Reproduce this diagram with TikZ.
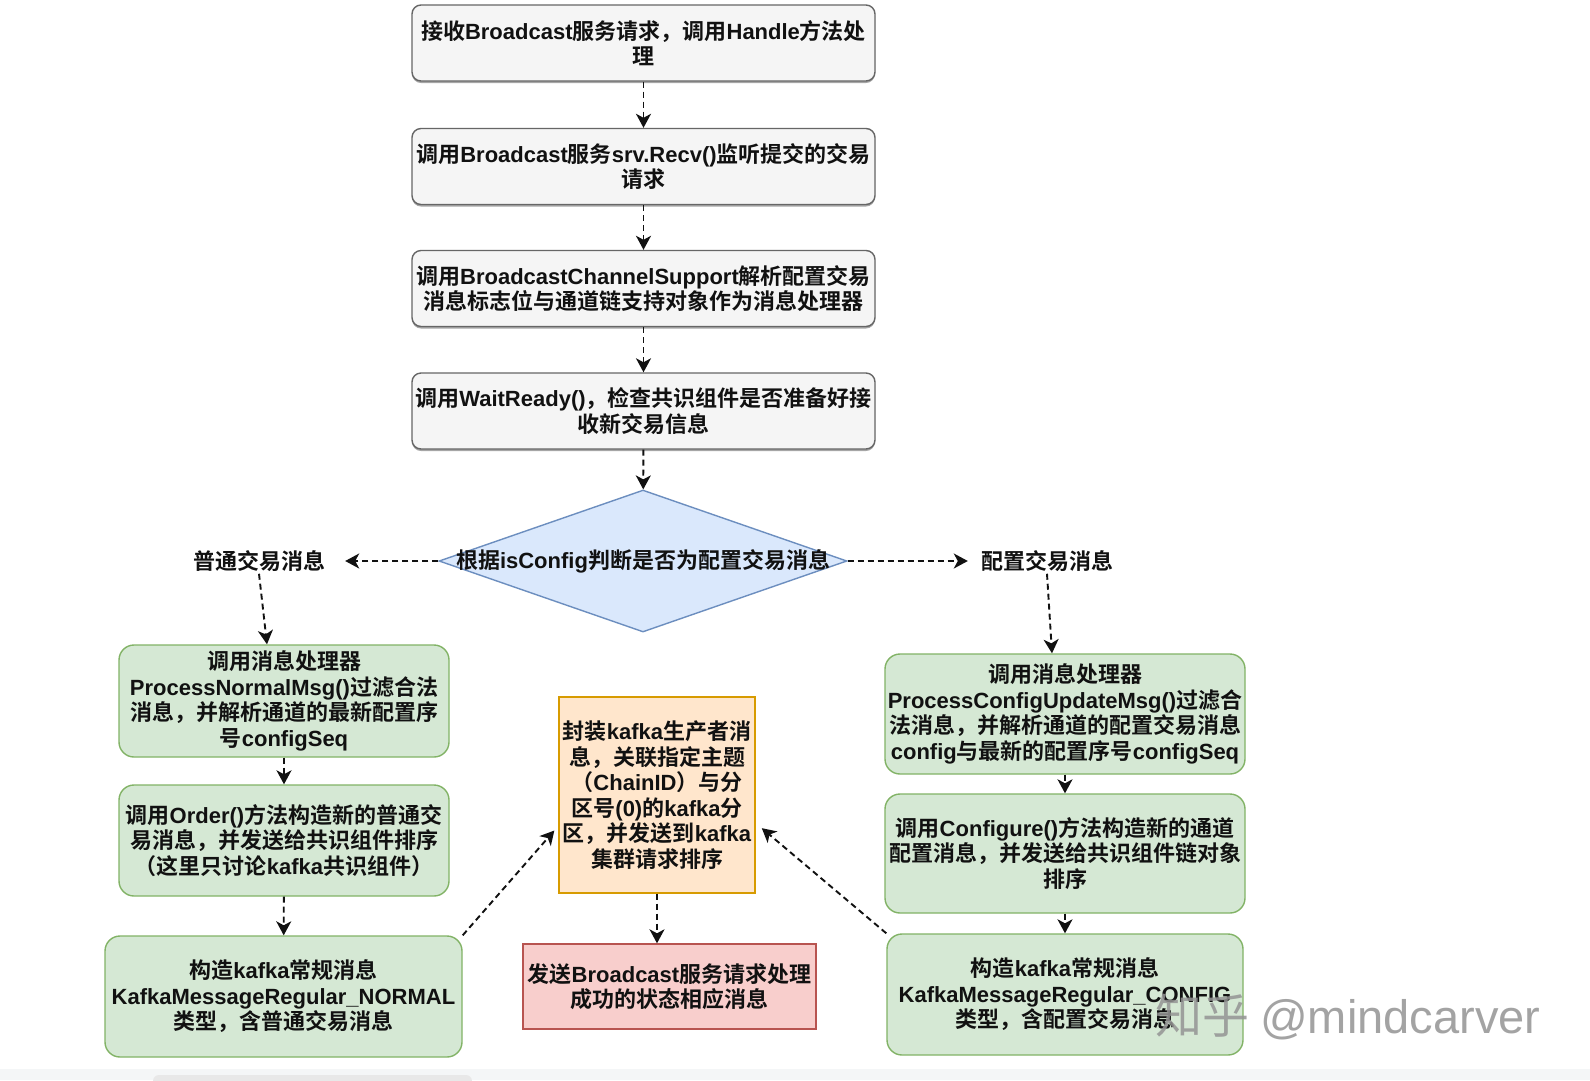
\documentclass[tikz,border=0pt]{standalone}
\usepackage{fontspec}
\setmainfont{Noto Sans CJK SC}[BoldFont={* Bold}]
\newfontfamily\ltnfont{Liberation Sans}
\newcommand\ltn[1]{{\ltnfont #1}}
\usetikzlibrary{positioning, arrows.meta, shapes.geometric, shadows}
\definecolor{ink}{HTML}{111111}
\definecolor{grayfill}{HTML}{F5F5F5}
\definecolor{grayline}{HTML}{666666}
\definecolor{grnfill}{HTML}{D5E8D4}
\definecolor{grnline}{HTML}{82B366}
\definecolor{orgfill}{HTML}{FFE6CC}
\definecolor{orgline}{HTML}{D79B00}
\definecolor{redfill}{HTML}{F8CECC}
\definecolor{redline}{HTML}{B85450}
\definecolor{decfill}{HTML}{DAE8FC}
\definecolor{decline}{HTML}{6C8EBF}
\definecolor{strip}{HTML}{F4F6F7}
\tikzset{
  every node/.style = {font=\bfseries\fontsize{22}{25.5}\selectfont, text=ink},
  fcbase/.style  = {draw, line width=1.4pt, align=center, inner sep=2pt},
  fcgray/.style  = {fcbase, draw=grayline, fill=grayfill, rounded corners=9pt,
                    minimum width=463pt, minimum height=76pt,
                    drop shadow={shadow xshift=0pt, shadow yshift=-2pt, opacity=0.35, fill=black}},
  fcgrn/.style   = {fcbase, draw=grnline, fill=grnfill, rounded corners=15pt},
  fcorg/.style   = {fcbase, draw=orgline, fill=orgfill, minimum width=196pt, minimum height=196pt},
  fcred/.style   = {fcbase, draw=redline, fill=redfill, minimum width=293pt, minimum height=85pt},
  fcdec/.style   = {diamond, draw=decline, fill=decfill, line width=1.4pt, inner sep=0pt,
                    minimum width=408pt, minimum height=142pt},
  fclab/.style   = {inner sep=2pt},
  fcgo/.style    = {-{Stealth[length=14pt,width=15pt,inset=4pt]}, draw=ink, line width=1.9pt,
                    dash pattern=on 6pt off 4pt},
  fcmark/.style  = {font=\fontsize{47}{50}\selectfont, text=black!42, opacity=0.85},
}

\begin{document}
\begin{tikzpicture}[x=1pt, y=-1pt]
\useasboundingbox[fill=white] (0,0) rectangle (1590,1080);
\fill[strip] (0,1069) rectangle (1590,1080);
\fill[black!9, rounded corners=6pt] (153,1075) rectangle (472,1090);

% main column
\node[fcgray] (b1) at (643.5,43)
  {接收\ltn{Broadcast}服务请求，调用\ltn{Handle}方法处\\理};
\node[fcgray] (b2) at (643.5,166.5)
  {调用\ltn{Broadcast}服务\ltn{srv.Recv()}监听提交的交易\\请求};
\node[fcgray] (b3) at (643.5,288.5)
  {调用\ltn{BroadcastChannelSupport}解析配置交易\\消息标志位与通道链支持对象作为消息处理器};
\node[fcgray] (b4) at (643.5,411)
  {调用\ltn{WaitReady()}，检查共识组件是否准备好接\\收新交易信息};
\node[fcdec, label={[font=\bfseries\fontsize{22}{25}\selectfont]center:根据\ltn{isConfig}判断是否为配置交易消息}]
  (dec) at (643,561) {};

\node[fclab] (nrm) at (259,561) {普通交易消息};
\node[fclab] (cfg) at (1047,561) {配置交易消息};

% normal branch
\node[fcgrn, minimum width=330pt, minimum height=112pt] (lb1) at (284,701)
  {调用消息处理器\\\ltn{ProcessNormalMsg()}过滤合法\\消息，并解析通道的最新配置序\\号\ltn{configSeq}};
\node[fcgrn, minimum width=330pt, minimum height=111pt] (lb2) at (284,840.5)
  {调用\ltn{Order()}方法构造新的普通交\\易消息，并发送给共识组件排序\\（这里只讨论\ltn{kafka}共识组件）};
\node[fcgrn, minimum width=357pt, minimum height=121pt] (lb3) at (283.5,996.5)
  {构造\ltn{kafka}常规消息\\\ltn{KafkaMessageRegular\_NORMAL}\\类型，含普通交易消息};

% config branch
\node[fcgrn, minimum width=360pt, minimum height=120pt] (rb1) at (1065,714)
  {调用消息处理器\\\ltn{ProcessConfigUpdateMsg()}过滤合\\法消息，并解析通道的配置交易消息\\\ltn{config}与最新的配置序号\ltn{configSeq}};
\node[fcgrn, minimum width=360pt, minimum height=119pt] (rb2) at (1065,853.5)
  {调用\ltn{Configure()}方法构造新的通道\\配置消息，并发送给共识组件链对象\\排序};
\node[fcgrn, minimum width=356pt, minimum height=121pt] (rb3) at (1065,994.5)
  {构造\ltn{kafka}常规消息\\\ltn{KafkaMessageRegular\_CONFIG}\\类型，含配置交易消息};

% kafka and reply
\node[fcorg] (kf) at (657,795)
  {封装\ltn{kafka}生产者消\\息，关联指定主题\\（\ltn{ChainID}）与分\\区号\ltn{(0)}的\ltn{kafka}分\\区，并发送到\ltn{kafka}\\集群请求排序};
\node[fcred] (rd) at (669.5,986.5)
  {发送\ltn{Broadcast}服务请求处理\\成功的状态相应消息};

\draw[fcgo] (b1) -- (b2);
\draw[fcgo] (b2) -- (b3);
\draw[fcgo] (b3) -- (b4);
\draw[fcgo] (b4) -- (dec);
\draw[fcgo, shorten >=18pt] (dec.west) -- (nrm.east);
\draw[fcgo, shorten >=11pt] (dec.east) -- (cfg.west);
\draw[fcgo] (nrm.south) -- ([xshift=-17pt]lb1.north);
\draw[fcgo] (cfg.south) -- ([xshift=-13pt]rb1.north);
\draw[fcgo] (lb1) -- (lb2);
\draw[fcgo] (lb2) -- (lb3);
\draw[fcgo] (rb1) -- (rb2);
\draw[fcgo] (rb2) -- (rb3);
\draw[fcgo, shorten >=6pt] (lb3.north east) -- ([yshift=-31pt]kf.west);
\draw[fcgo, shorten >=8pt] (rb3.north west) -- ([yshift=-28pt]kf.east);
\draw[fcgo] (kf.south) -- (kf.south |- rd.north);

% watermark
\node[fcmark] (wm) at (1348,1017) {知乎 \ltn{@mindcarver}};
\end{tikzpicture}
\end{document}
